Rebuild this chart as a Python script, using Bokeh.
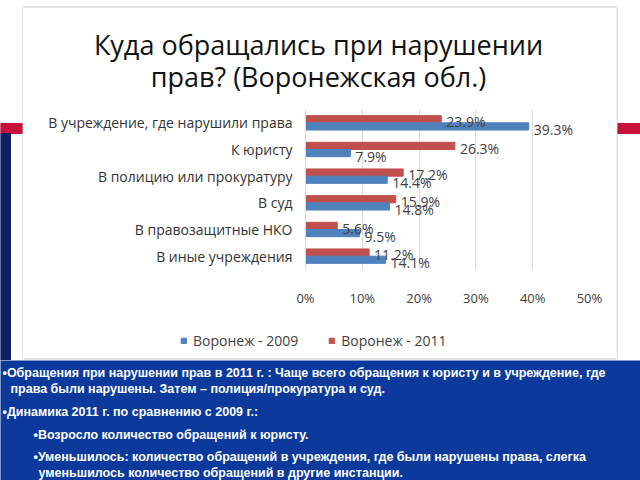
from bokeh.plotting import figure
from bokeh.layouts import column, row
from bokeh.models import (Range1d, FactorRange, Label, Legend, LegendItem,
                          FixedTicker, ColumnDataSource)
from bokeh.transform import dodge
from bokeh.core.properties import value
from bokeh.embed import file_html
from bokeh.resources import INLINE

# ---------------- data ----------------
categories = [
    "В учреждение, где нарушили права",
    "К юристу",
    "В полицию или прокуратуру",
    "В суд",
    "В правозащитные НКО",
    "В иные учреждения",
]
values_2009 = [39.3, 7.9, 14.4, 14.8, 9.5, 14.1]
values_2011 = [23.9, 26.3, 17.2, 15.9, 5.6, 11.2]
series_names = ["Воронеж - 2009", "Воронеж - 2011"]
x_ticks = [0, 10, 20, 30, 40, 50]
x_tick_labels = ["0%", "10%", "20%", "30%", "40%", "50%"]
title_lines = ["Куда обращались при нарушении", "прав? (Воронежская обл.)"]
notes = [
    "•Обращения при нарушении прав в 2011 г. : Чаще всего обращения к юристу и в учреждение, где",
    " права были нарушены.  Затем – полиция/прокуратура и суд.",
    "•Динамика 2011 г. по сравнению с 2009 г.:",
    "•Возросло количество обращений к юристу.",
    "•Уменьшилось: количество обращений в учреждения, где были нарушены права, слегка",
    "уменьшилось количество обращений в другие инстанции.",
]

# ---------------- styles ----------------
BLUE = "#4f81bd"
RED = "#c0504d"
NAVY = "#0f1f66"
BAND = "#0b3a9c"
STRIPE = "#c8103c"
BOXLINE = "#c8c8c8"
FONT = "Open Sans"


def blank(w, h, xr, yr, bg="white"):
    f = figure(width=w, height=h, x_range=Range1d(*xr), y_range=Range1d(*yr),
               output_backend="svg", toolbar_location=None, min_border=0,
               x_axis_location=None, y_axis_location=None)
    f.grid.visible = False
    f.outline_line_color = None
    f.background_fill_color = bg
    f.border_fill_color = bg
    return f


# ---- left decoration strip (canvas x 0..23)
fl = blank(23, 360, (0, 23), (360, 0))
fl.quad(left=[0], right=[22], top=[123], bottom=[133], color=STRIPE)
fl.quad(left=[0], right=[10], top=[133], bottom=[360], color=NAVY)
fl.segment(x0=[22.5], y0=[6], x1=[22.5], y1=[359], line_color=BOXLINE, line_width=1)

# ---- right decoration strip (canvas x 616..640)
fr = blank(24, 360, (616, 640), (360, 0))
fr.quad(left=[617], right=[640], top=[123], bottom=[133], color=STRIPE)
fr.segment(x0=[616.5], y0=[6], x1=[616.5], y1=[359], line_color=BOXLINE, line_width=1)

# ---- title block (canvas x 23..616, y 0..100)
ft = blank(593, 100, (23, 616), (100, 0))
ft.segment(x0=[22], y0=[6.5], x1=[617], y1=[6.5], line_color=BOXLINE, line_width=1)
for i, t in enumerate(title_lines):
    ft.add_layout(Label(x=318, y=44 + 32 * i, text=t, text_align="center",
                        text_baseline="middle", text_font=FONT,
                        text_font_size="27px", text_color="#111111"))

# ---- chart (canvas y 100..315)
src = ColumnDataSource(dict(
    cat=categories,
    v09=values_2009,
    v11=values_2011,
    l09=[f"{v:.1f}%" for v in values_2009],
    l11=[f"{v:.1f}%" for v in values_2011],
))

p = figure(width=593, height=215, output_backend="svg", toolbar_location=None,
           x_range=Range1d(0, 50), y_range=FactorRange(*categories[::-1]),
           min_border_left=282, min_border_right=27, min_border_top=9, min_border_bottom=46)
p.outline_line_color = None
p.background_fill_color = "white"
p.border_fill_color = "white"

r11 = p.hbar(y=dodge("cat", 0.135, range=p.y_range), right="v11", height=0.27,
             color=RED, source=src)
r09 = p.hbar(y=dodge("cat", -0.135, range=p.y_range), right="v09", height=0.27,
             color=BLUE, source=src)

p.text(x="v11", y=dodge("cat", 0.05, range=p.y_range), text="l11", source=src,
       x_offset=5, text_baseline="middle", text_font=value(FONT), text_font_size="14px",
       text_color="#404040")
p.text(x="v09", y=dodge("cat", -0.25, range=p.y_range), text="l09", source=src,
       x_offset=5, text_baseline="middle", text_font=value(FONT), text_font_size="14px",
       text_color="#404040")

p.xgrid.ticker = FixedTicker(ticks=x_ticks)
p.xgrid.grid_line_color = "#d9d9d9"
p.ygrid.grid_line_color = None

xa = p.xaxis[0]
xa.ticker = FixedTicker(ticks=x_ticks)
xa.major_label_overrides = {t: l for t, l in zip(x_ticks, x_tick_labels)}
xa.axis_line_color = None
xa.major_tick_line_color = None
xa.minor_tick_line_color = None
xa.major_tick_out = 0
xa.minor_tick_out = 0
xa.major_label_standoff = 19
xa.major_label_text_font = FONT
xa.major_label_text_font_size = "13px"
xa.major_label_text_color = "#404040"

ya = p.yaxis[0]
ya.axis_line_color = "#d9d9d9"
ya.major_tick_line_color = None
ya.minor_tick_line_color = None
ya.major_tick_out = 0
ya.minor_tick_out = 0
ya.major_label_standoff = 13
ya.major_label_text_font = FONT
ya.major_label_text_font_size = "14px"
ya.major_label_text_color = "#333333"

# ---- legend block (canvas y 315..360)
fg = blank(593, 45, (23, 616), (360, 315))
fg.segment(x0=[22], y0=[358.5], x1=[617], y1=[358.5], line_color=BOXLINE, line_width=1)
# swatch renderers for the legend only (placed outside the visible range)
sw09 = fg.quad(left=[0], right=[1], top=[0], bottom=[1], color=BLUE)
sw11 = fg.quad(left=[0], right=[1], top=[0], bottom=[1], color=RED)
legend = Legend(items=[LegendItem(label=series_names[0], renderers=[sw09]),
                       LegendItem(label=series_names[1], renderers=[sw11])],
                orientation="horizontal", location=(157, 10),
                glyph_width=7, glyph_height=7, label_standoff=6, spacing=30,
                padding=0, margin=0, border_line_color=None, background_fill_alpha=0,
                label_text_font=FONT, label_text_font_size="14px", label_text_color="#404040")
fg.add_layout(legend, "center")

# ---- bottom notes band (canvas y 360..480)
fb = blank(640, 120, (0, 640), (480, 360), bg=BAND)
note_pos = [(2, 372), (10, 388), (2, 411), (33, 434), (33, 456), (38, 472)]
for t, (x, y) in zip(notes, note_pos):
    fb.add_layout(Label(x=x, y=y, text=t, text_baseline="middle",
                        text_font="Liberation Sans", text_font_style="bold",
                        text_font_size="12.5px", text_color="white"))

layout = column(row(fl, column(row(ft), row(p), row(fg)), fr), fb)
open("out.html", "w").write(file_html(layout, INLINE))
